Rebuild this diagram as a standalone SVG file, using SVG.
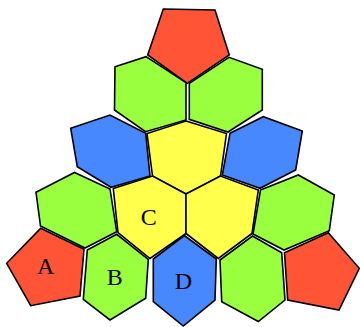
<svg xmlns="http://www.w3.org/2000/svg" width="360" height="327" viewBox="0 0 360 327">
<style>
polygon{stroke:#000;stroke-width:1.6;stroke-linejoin:miter}
.r{fill:#ff5436}.g{fill:#99ff3f}.b{fill:#4787ff}.y{fill:#ffff4c}
text{font-family:"Liberation Serif","DejaVu Serif",serif;font-size:24px;text-anchor:middle;fill:#000}
</style>
<rect width="360" height="327" fill="#fff"/>
<g id="top-pentagon"><polygon class="r" points="163.3,9 215,10 229.3,55 187.3,83.3 147.7,55"/></g>
<g id="green-top-left"><polygon class="g" points="115,66.7 146,56.7 186,82.7 186,120 145.5,131.7 114.5,110"/></g>
<g id="green-top-right"><polygon class="g" points="189.3,83.3 229,57.3 262.3,69.3 262.3,110 228,132 189.3,119.3"/></g>
<g id="blue-left"><polygon class="b" points="70.7,128.3 110,115 145.7,133.3 150,176 111,187.3 77.3,166.7"/></g>
<g id="blue-right"><polygon class="b" points="230,133.3 263.3,116.7 302.3,131 295.7,170 260,188.3 222.3,175"/></g>
<g id="yellow-top"><polygon class="y" points="186,121 226.5,133.5 220.5,176 186,194 152.5,176 147,133.5"/></g>
<g id="yellow-C"><polygon class="y" points="113.3,188.5 152.5,176 186,194 186,233.5 150,258.5 118,232.5"/><text x="148.8" y="225">C</text></g>
<g id="yellow-right"><polygon class="y" points="186,194 220.5,176 258.3,190 252,233.5 218.3,258.5 186,233.5"/></g>
<g id="green-mid-left"><polygon class="g" points="36,192.3 74.5,172.5 110,189 116.7,231.7 85,248 40.5,226"/></g>
<g id="green-mid-right"><polygon class="g" points="260.5,190 298.3,175 334.3,195 329.3,230.7 284,250 253,234"/></g>
<g id="red-A"><polygon class="r" points="6.7,263.3 40.7,228.3 84,249.3 80,296 30.7,305.7"/><text x="45.7" y="274.3">A</text></g>
<g id="green-B"><polygon class="g" points="87.3,250 116.7,234.3 148.3,259.3 145.7,298.3 110,320 83.3,299.3"/><text x="114.7" y="285">B</text></g>
<g id="blue-D"><polygon class="b" points="153.3,259 184.3,235.5 216.3,259 215,300 183.3,326 153.3,301.7"/><text x="183.3" y="289">D</text></g>
<g id="green-bottom-right"><polygon class="g" points="220,260 252.5,236 281.7,252.7 285,300 258.3,321.5 221.7,301.7"/></g>
<g id="red-right"><polygon class="r" points="284.5,252.7 328.3,232.7 359.3,268.3 339,310 287.7,300"/></g>
<g id="connectors"></g>
</svg>
